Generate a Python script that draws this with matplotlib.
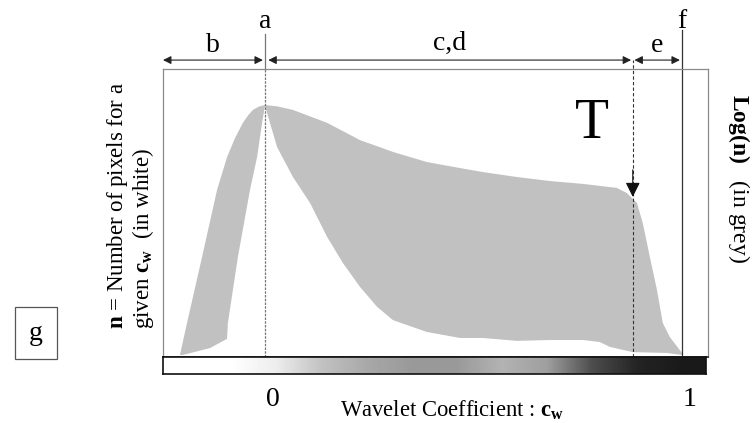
import numpy as np
import matplotlib
matplotlib.use("Agg")
import matplotlib.pyplot as plt
from matplotlib import transforms

plt.rcParams['font.family'] = ['Liberation Serif', 'DejaVu Serif']
plt.rcParams['mathtext.fontset'] = 'custom'
plt.rcParams['mathtext.rm'] = 'Liberation Serif'
plt.rcParams['mathtext.bf'] = 'Liberation Serif:bold'
plt.rcParams['mathtext.it'] = 'Liberation Serif:italic'

# upper curve: log(n), grey
log_x = [-0.204, -0.187, -0.151, -0.115, -0.091, -0.072, -0.053, -0.040, -0.029, -0.014,
         0.0, 0.030, 0.067, 0.149,
         0.228, 0.307, 0.388, 0.468, 0.523, 0.604, 0.683, 0.763, 0.844, 0.868,
         0.892, 0.906, 0.923, 0.940, 0.954, 0.971, 1.0]
log_y = [0.007, 0.118, 0.347, 0.580, 0.694, 0.760, 0.813, 0.840, 0.858, 0.870,
         0.875, 0.870, 0.858, 0.813,
         0.753, 0.712, 0.677, 0.656, 0.642, 0.625, 0.611, 0.601, 0.587, 0.569,
         0.535, 0.465, 0.347, 0.233, 0.118, 0.069, 0.014]

# lower curve: n, white
n_x = [-0.197, -0.132, -0.091, -0.089, -0.065, -0.036, -0.019, -0.007, 0.0, 0.029,
       0.067, 0.108, 0.149, 0.187, 0.228, 0.269, 0.307, 0.388, 0.468, 0.523,
       0.604, 0.683, 0.763, 0.803, 0.827, 0.882, 0.964, 1.0]
n_y = [0.007, 0.031, 0.063, 0.118, 0.347, 0.580, 0.694, 0.813, 0.872, 0.729,
       0.625, 0.535, 0.417, 0.326, 0.243, 0.174, 0.128, 0.087, 0.066, 0.066,
       0.056, 0.059, 0.059, 0.052, 0.035, 0.017, 0.014, 0.007]

# grey level of the coefficient bar, left to right (1 = white)
bar_grey = [1.0, 1.0, 0.93, 0.76, 0.66, 0.6, 0.6, 0.7, 0.62, 0.3, 0.14, 0.1]

threshold_T = 0.882
tick_vals = [0, 1]
tick_labels = ['0', '1']
marker_labels = ['a', 'f']

W, H = 752, 423
fig = plt.figure(figsize=(W / 100, H / 100), dpi=100)

def fx(px):
    return px / W

def fy(py):
    return 1 - py / H

ax = fig.add_axes([fx(163), fy(357), fx(708) - fx(163), fy(69) - fy(357)])
ax.set_xlim(-0.2446, 1.0624)
ax.set_ylim(0, 1)
ax.set_xticks([])
ax.set_yticks([])
for s in ['top', 'left', 'right']:
    ax.spines[s].set_color('#8a8a8a')
    ax.spines[s].set_linewidth(0.9)
ax.spines['bottom'].set_color('#222222')
ax.spines['bottom'].set_linewidth(1.2)

poly_x = np.concatenate([log_x, n_x[::-1]])
poly_y = np.concatenate([log_y, n_y[::-1]])
ax.fill(poly_x, poly_y, color='#c1c1c1', lw=0, zorder=1)

top_tr = transforms.blended_transform_factory(ax.transData, fig.transFigure)

# vertical markers a and f
ax.plot([0, 0], [0, 1.0], color='#777777', lw=0.9, ls=(0, (2, 1)), zorder=2)
ax.plot([0, 0], [1.0, 1.12], color='#777777', lw=0.9, clip_on=False, zorder=2)
ax.plot([1, 1], [0, 1.135], color='#333333', lw=0.9, clip_on=False, zorder=2)
ax.text(0, fy(22), marker_labels[0], transform=top_tr, ha='center', va='center', fontsize=20)
ax.text(1, fy(22), marker_labels[1], transform=top_tr, ha='center', va='center', fontsize=20)

# threshold T
ax.plot([threshold_T, threshold_T], [0, 1.03], color='#333333', lw=0.8,
        ls=(0, (3, 2)), clip_on=False, zorder=3)
ax.annotate('', xy=(threshold_T, 0.556), xytext=(threshold_T, 0.65),
            arrowprops=dict(arrowstyle='-|>', color='#111111', lw=0.8,
                            mutation_scale=22, shrinkA=0, shrinkB=0))
ax.text(0.785, fy(124), 'T', transform=top_tr, ha='center', va='center', fontsize=40)

# range arrows
arrow_y = 1.031
ranges = [(-0.2446, -0.005, 'b', 45), (0.008, 0.878, 'c,d', 43), (0.886, 0.995, 'e', 45)]
for x0, x1, lab, ly in ranges:
    ax.annotate('', xy=(x1, arrow_y), xytext=(x0, arrow_y), annotation_clip=False,
                arrowprops=dict(arrowstyle='<|-|>', color='#222222', lw=0.8,
                                mutation_scale=12, shrinkA=0, shrinkB=0))
    ax.text((x0 + x1) / 2, fy(ly), lab, transform=top_tr, ha='center', va='center', fontsize=20)

# coefficient bar
cax = fig.add_axes([fx(163), fy(374), fx(706) - fx(163), fy(357) - fy(374)])
cax.imshow(np.array(bar_grey)[None, :], cmap='gray', vmin=0, vmax=1,
           aspect='auto', interpolation='bilinear', extent=[0, 1, 0, 1])
cax.set_xticks([])
cax.set_yticks([])
for s in cax.spines.values():
    s.set_color('#111111')
    s.set_linewidth(1.2)

# tick labels under the bar
for v, lab in zip(tick_vals, tick_labels):
    ax.text(v + 0.018, fy(399), lab, transform=top_tr, ha='center', va='center', fontsize=20)

fig.text(fx(452), fy(410), r'Wavelet Coefficient : $\mathbf{c}_{\mathbf{w}}$',
         ha='center', va='center', fontsize=16.3)

fig.text(fx(130), fy(205), '$\\mathbf{n}$ = Number of pixels for a\ngiven $\\mathbf{c}_{\\mathbf{w}}$  (in white)',
         rotation=90, ha='center', va='center', multialignment='left',
         fontsize=16.5, linespacing=1.0)
fig.text(fx(739), fy(178), r'$\mathbf{Log(n)}$   (in grey)', rotation=270,
         ha='center', va='center', fontsize=17)

fig.text(fx(36), fy(333), 'g', ha='center', va='center', fontsize=20,
         bbox=dict(boxstyle='square,pad=0.5', fc='white', ec='#555555', lw=0.9))

fig.savefig('out.png', dpi=100)
